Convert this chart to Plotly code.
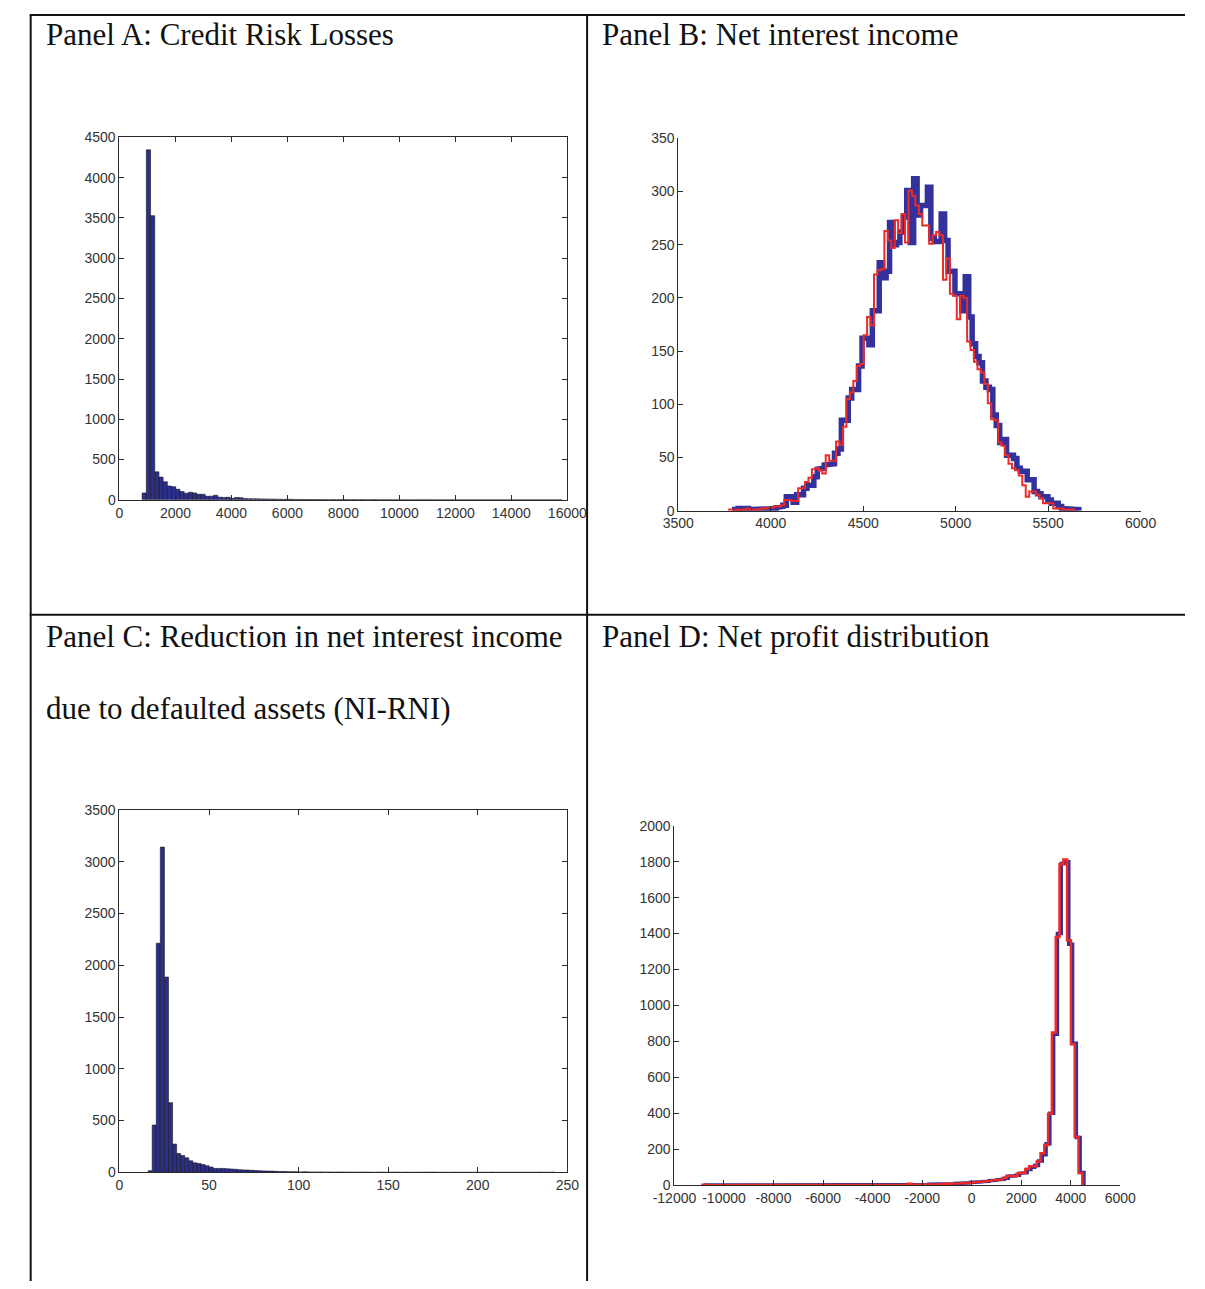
import plotly.graph_objects as go

REF_W, REF_H = 1205, 1289
W, H = REF_W, REF_H

# ---------------- data ----------------
# Panel A: credit risk losses histogram (100 bins)
A_bin_start, A_bin_width = 810, 150
A_counts = [86, 4345, 3528, 347, 282, 225, 171, 163, 131, 102,
            82, 94, 86, 69, 69, 45, 45, 57, 33, 30,
            32, 18, 28, 27, 16, 14, 13, 12, 11, 10,
            9, 9, 8, 7, 6, 7, 5, 5, 4, 4,
            3, 4, 3, 3, 2, 3, 2, 3, 3, 2,
            3, 2, 3, 2, 2, 3, 1, 2, 2, 1,
            1, 0, 1, 1, 0, 1, 1, 1, 1, 0,
            1, 0, 0, 1, 0, 0, 0, 0, 0, 0,
            0, 0, 0, 0, 1, 0, 0, 0, 0, 0,
            0, 0, 0, 0, 0, 1, 0, 1, 0, 1]
A_xticks = [0, 2000, 4000, 6000, 8000, 10000, 12000, 14000, 16000]
A_yticks = [0, 500, 1000, 1500, 2000, 2500, 3000, 3500, 4000, 4500]

# Panel B: net interest income (two step histograms, 100 bins each)
B_red_start, B_red_width = 3775, 18.65
B_red = [1, 0, 1, 0, 1, 2, 0, 1, 1, 2,
         2, 3, 3, 4, 4, 5, 10, 10, 9, 9,
         21, 21, 27, 31, 39, 40, 38, 35, 52, 47,
         47, 65, 62, 79, 105, 111, 122, 136, 138, 165,
         182, 174, 222, 226, 227, 263, 254, 247, 273, 261,
         279, 252, 301, 296, 287, 279, 268, 268, 251, 259,
         262, 259, 217, 237, 204, 202, 180, 202, 200, 159,
         151, 140, 133, 130, 119, 101, 86, 85, 64, 61,
         52, 44, 40, 38, 33, 24, 13, 18, 18, 15,
         12, 7, 7, 7, 2, 2, 2, 1, 1, 1]
B_blue_start, B_blue_width = 3805, 18.61
B_blue = [1, 2, 1, 2, 1, 1, 2, 2, 1, 2,
          2, 2, 3, 4, 5, 13, 13, 8, 15, 15,
          21, 24, 24, 32, 39, 40, 43, 43, 44, 54,
          58, 85, 85, 106, 114, 114, 136, 162, 162, 156,
          188, 188, 233, 219, 225, 271, 250, 252, 262, 276,
          301, 252, 312, 278, 287, 287, 304, 256, 253, 253,
          279, 254, 225, 225, 204, 204, 188, 220, 182, 157,
          145, 139, 122, 116, 114, 90, 80, 64, 67, 52,
          52, 49, 40, 37, 37, 29, 29, 18, 16, 13,
          13, 10, 7, 7, 4, 2, 2, 2, 2, 1]
B_xticks = [3500, 4000, 4500, 5000, 5500, 6000]
B_yticks = [0, 50, 100, 150, 200, 250, 300, 350]

# Panel C: reduction in net interest income histogram (100 bins)
C_bin_start, C_bin_width = 16, 2.27
C_counts = [16, 457, 2213, 3141, 1886, 673, 273, 181, 162, 140,
            111, 92, 86, 76, 64, 51, 38, 38, 38, 35,
            32, 30, 26, 24, 22, 20, 18, 15, 14, 12,
            12, 10, 8, 9, 7, 6, 6, 4, 5, 4,
            3, 3, 4, 2, 3, 2, 2, 3, 2, 1,
            2, 1, 1, 2, 1, 0, 1, 1, 0, 1,
            1, 1, 0, 1, 0, 0, 1, 0, 1, 1,
            1, 0, 0, 0, 0, 1, 0, 0, 0, 0,
            0, 0, 0, 0, 1, 0, 0, 0, 0, 0,
            0, 0, 0, 0, 0, 0, 1, 0, 0, 1]
C_xticks = [0, 50, 100, 150, 200, 250]
C_yticks = [0, 500, 1000, 1500, 2000, 2500, 3000, 3500]

# Panel D: net profit distribution (two step histograms, 100 bins each)
D_red_start, D_red_width = -10870, 153.35
D_red = [2, 0, 0, 1, 0, 0, 1, 0, 0, 0,
         1, 0, 0, 0, 0, 1, 0, 0, 1, 0,
         0, 0, 1, 0, 0, 2, 1, 0, 0, 1,
         1, 0, 1, 2, 1, 0, 1, 1, 0, 2,
         1, 2, 1, 2, 2, 1, 2, 3, 1, 2,
         3, 2, 1, 3, 8, 2, 4, 3, 3, 5,
         4, 6, 5, 7, 6, 8, 9, 10, 11, 13,
         14, 16, 18, 20, 21, 24, 27, 31, 31, 40,
         51, 51, 51, 68, 68, 90, 105, 105, 132, 178,
         224, 398, 850, 1381, 1786, 1812, 1363, 784, 270, 68]
D_blue_start, D_blue_width = -10750, 152.8
D_blue = [1, 1, 0, 0, 1, 0, 0, 0, 1, 0,
          0, 1, 0, 0, 0, 0, 1, 0, 0, 1,
          0, 1, 0, 0, 1, 0, 0, 1, 1, 0,
          2, 1, 0, 1, 2, 1, 0, 2, 1, 1,
          2, 1, 2, 1, 3, 2, 1, 2, 3, 2,
          2, 3, 3, 2, 4, 3, 3, 4, 4, 5,
          5, 5, 7, 6, 8, 8, 10, 10, 12, 13,
          15, 16, 19, 20, 22, 25, 28, 30, 33, 38,
          50, 52, 55, 66, 70, 88, 100, 110, 135, 170,
          230, 400, 840, 1400, 1790, 1800, 1340, 790, 265, 70]
D_xticks = [-12000, -10000, -8000, -6000, -4000, -2000, 0, 2000, 4000, 6000]
D_yticks = [0, 200, 400, 600, 800, 1000, 1200, 1400, 1600, 1800, 2000]

titles = ["Panel A: Credit Risk Losses",
          "Panel B: Net interest income",
          "Panel C: Reduction in net interest income",
          "due to defaulted assets (NI-RNI)",
          "Panel D: Net profit distribution"]

# ---------------- helpers ----------------
def px(x):
    return x / W

def py(y):
    return 1 - y / H

def bar_xy(start, width, counts):
    xs = [start + width * (i + 0.5) for i in range(len(counts))]
    return xs, counts

def stairs(start, width, counts):
    xs2, ys2 = [], []
    for i, c in enumerate(counts):
        xs2 += [start + width * i, start + width * (i + 1)]
        ys2 += [c, c]
    return [start] + xs2 + [start + width * len(counts)], [0] + ys2 + [0]

BAR = "#2b2e8e"
BLUE = "#33319b"
RED = "#ee2a26"
AX = "#2a2a2a"
TICKFONT = dict(family="Liberation Sans, Arial, sans-serif", size=14, color="#333333")

fig = go.Figure()

xa, ya = bar_xy(A_bin_start, A_bin_width, A_counts)
fig.add_trace(go.Bar(x=xa, y=ya, width=A_bin_width, marker=dict(color=BAR, line=dict(color="#1a1a1a", width=0.6)),
                     xaxis="x", yaxis="y", showlegend=False))
xb, yb = stairs(B_blue_start, B_blue_width, B_blue)
fig.add_trace(go.Scatter(x=xb, y=yb, mode="lines", line=dict(color=BLUE, width=5.5), xaxis="x2", yaxis="y2", showlegend=False))
xb, yb = stairs(B_red_start, B_red_width, B_red)
fig.add_trace(go.Scatter(x=xb, y=yb, mode="lines", line=dict(color=RED, width=2), xaxis="x2", yaxis="y2", showlegend=False))
xc, yc = bar_xy(C_bin_start, C_bin_width, C_counts)
fig.add_trace(go.Bar(x=xc, y=yc, width=C_bin_width, marker=dict(color=BAR, line=dict(color="#1a1a1a", width=0.6)),
                     xaxis="x3", yaxis="y3", showlegend=False))
xd, yd = stairs(D_blue_start, D_blue_width, D_blue)
fig.add_trace(go.Scatter(x=xd, y=yd, mode="lines", line=dict(color=BLUE, width=3.5), xaxis="x4", yaxis="y4", showlegend=False))
xd, yd = stairs(D_red_start, D_red_width, D_red)
fig.add_trace(go.Scatter(x=xd, y=yd, mode="lines", line=dict(color=RED, width=2.5), xaxis="x4", yaxis="y4", showlegend=False))

def ax(domain, ticks, anchor, box):
    d = dict(domain=domain, range=[ticks[0], ticks[-1]], tickmode="array", tickvals=ticks,
             ticktext=[str(t) for t in ticks],
             anchor=anchor, showline=True, linecolor=AX, linewidth=1,
             ticks="inside", ticklen=5, tickcolor=AX, showgrid=False, zeroline=False,
             tickfont=TICKFONT, fixedrange=True)
    if box:
        d["mirror"] = "ticks"
    return d

fig.update_layout(
    width=W, height=H,
    autosize=False,
    margin=dict(l=0, r=0, t=0, b=0),
    paper_bgcolor="white", plot_bgcolor="white",
    bargap=0,
    xaxis=ax([px(101), px(565)], A_xticks, "y", True),
    yaxis=ax([py(498), py(131)], A_yticks, "x", True),
    xaxis2=ax([px(680), px(1159)], B_xticks, "y2", False),
    yaxis2=ax([py(509), py(132)], B_yticks, "x2", False),
    xaxis3=ax([px(101), px(565)], C_xticks, "y3", True),
    yaxis3=ax([py(1179), py(812)], C_yticks, "x3", True),
    xaxis4=ax([px(676), px(1138)], D_xticks, "y4", False),
    yaxis4=ax([py(1192), py(828)], D_yticks, "x4", False),
)

TFONT = dict(family="Liberation Serif, Times New Roman, serif", size=31, color="#111111")
title_pos = [(23, 27), (599, 27), (23, 636), (23, 709), (599, 636)]
for t, (tx, ty) in zip(titles, title_pos):
    fig.add_annotation(x=px(tx), y=py(ty), xref="paper", yref="paper", text=t, showarrow=False,
                       xanchor="left", yanchor="middle", font=TFONT)

LINE = dict(color="#111111", width=2)
for (x0, y0, x1, y1) in [(8, 7, 1205, 7), (9, 7, 9, 1289), (585.5, 7, 585.5, 1289), (8, 614.5, 1205, 614.5)]:
    fig.add_shape(type="line", xref="paper", yref="paper", x0=px(x0), y0=py(y0), x1=px(x1), y1=py(y1), line=LINE)

PAGE_JS = ("document.documentElement.style.margin='0';document.body.style.margin='0';"
           "document.documentElement.style.overflow='hidden';document.body.style.overflow='hidden';")
fig.write_html("out.html", post_script=PAGE_JS, config={"displayModeBar": False, "staticPlot": True})
